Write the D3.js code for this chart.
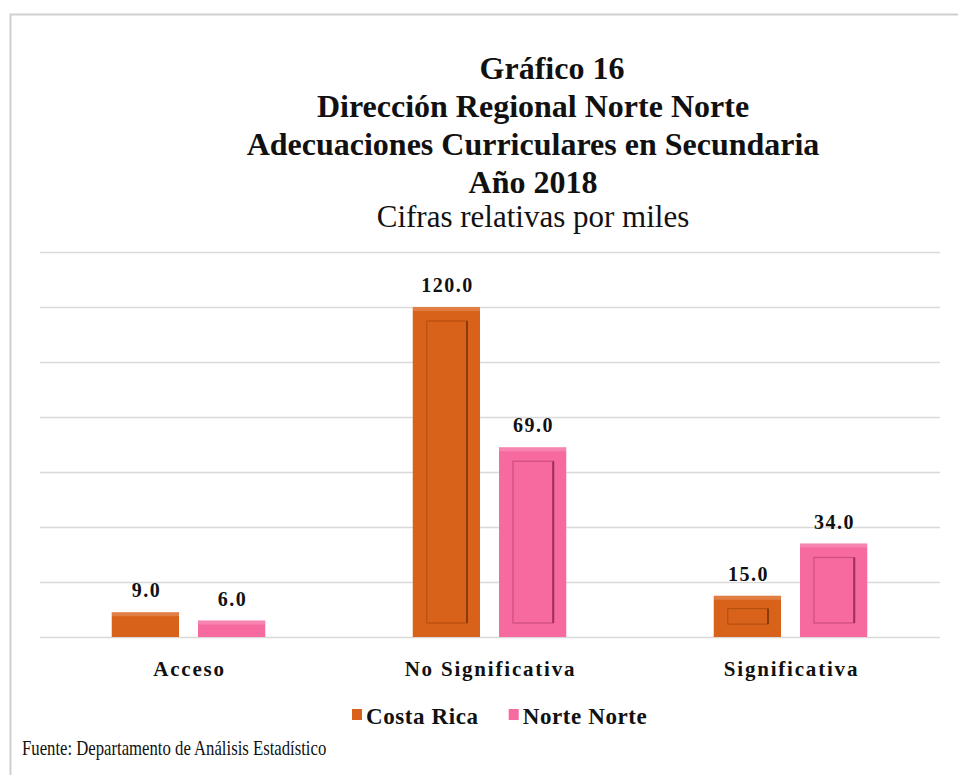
<!DOCTYPE html>
<html>
<head>
<meta charset="utf-8">
<script src="https://cdn.jsdelivr.net/npm/d3@7"></script>
<style>
  html, body { margin: 0; padding: 0; background: #fff; }
  svg { display: block; }
  text { font-family: "Liberation Serif", "Times New Roman", serif; }
</style>
</head>
<body>
<svg id="chart" width="958" height="775"></svg>
<script>
// data
var categories = ["Acceso", "No Significativa", "Significativa"];
var series = ["Costa Rica", "Norte Norte"];
var costaRica = [9.0, 120.0, 15.0];
var norteNorte = [6.0, 69.0, 34.0];
var titleLines = ["Gráfico 16", "Dirección Regional Norte Norte",
                  "Adecuaciones Curriculares en Secundaria", "Año 2018"];
var subtitle = "Cifras relativas por miles";
var source = "Fuente: Departamento de Análisis Estadístico";

var colors = {"Costa Rica": "#d9621a", "Norte Norte": "#f66a9f"};
var edges = {"Costa Rica": "#8a3a08", "Norte Norte": "#9c2d5c"};

function draw_chart()
{
    var svg = d3.select("svg#chart");

    // frame
    svg.append("path")
        .attr("d", "M10.5,775 L10.5,14.5 L958,14.5")
        .attr("fill", "none")
        .attr("stroke", "#cfcfcf")
        .attr("stroke-width", 2);

    // titles
    var tg = svg.append("g");
    tg.selectAll("text.title")
        .data(titleLines)
        .enter()
        .append("text")
        .attr("class", "title")
        .attr("x", function(d, i) { return i === 0 ? 552 : 533; })
        .attr("y", function(d, i) { return 79 + i * 38; })
        .attr("text-anchor", "middle")
        .attr("font-size", "32px")
        .attr("font-weight", "bold")
        .attr("fill", "#111")
        .text(function(d) { return d; });
    tg.append("text")
        .attr("x", 533)
        .attr("y", 227)
        .attr("text-anchor", "middle")
        .attr("font-size", "31px")
        .attr("fill", "#111")
        .text(subtitle);

    // scales
    var y = d3.scaleLinear().domain([0, 140]).range([637, 252]);
    var x0 = d3.scaleBand().domain(categories).range([38, 941])
        .paddingInner(0.49).paddingOuter(0.245);
    var x1 = d3.scaleBand().domain(series).range([0, x0.bandwidth()])
        .paddingInner(0.22);

    // gridlines
    svg.append("g")
        .selectAll("line")
        .data(y.ticks(7))
        .enter()
        .append("line")
        .attr("x1", 40)
        .attr("x2", 940)
        .attr("y1", function(d) { return Math.round(y(d)) + 0.5; })
        .attr("y2", function(d) { return Math.round(y(d)) + 0.5; })
        .attr("stroke", "#d9d9d9")
        .attr("stroke-width", 1.5);

    var rows = [];
    categories.forEach(function(c, i) {
        rows.push({cat: c, s: "Costa Rica", v: costaRica[i]});
        rows.push({cat: c, s: "Norte Norte", v: norteNorte[i]});
    });

    var bars = svg.append("g").selectAll("g.bar")
        .data(rows)
        .enter()
        .append("g")
        .attr("class", "bar")
        .attr("transform", function(d) {
            return "translate(" + (x0(d.cat) + x1(d.s)) + ",0)";
        });

    // outer body of bar
    bars.append("rect")
        .attr("x", 0)
        .attr("y", function(d) { return y(d.v); })
        .attr("width", x1.bandwidth())
        .attr("height", function(d) { return y(0) - y(d.v); })
        .attr("fill", function(d) { return colors[d.s]; });

    // bevel: lighter top strip
    bars.append("rect")
        .attr("x", 0)
        .attr("y", function(d) { return y(d.v); })
        .attr("width", x1.bandwidth())
        .attr("height", function(d) { return Math.min(4, (y(0) - y(d.v)) / 4); })
        .attr("fill", "#fff")
        .attr("opacity", 0.18);

    // bevel: inner panel
    var inner = bars.filter(function(d) { return y(0) - y(d.v) > 30; });
    inner.append("rect")
        .attr("x", 14)
        .attr("y", function(d) { return y(d.v) + Math.min(14, (y(0) - y(d.v)) / 3.2); })
        .attr("width", x1.bandwidth() - 27)
        .attr("height", function(d) {
            var h = y(0) - y(d.v), t = Math.min(14, h / 3.2);
            return h - 2 * t;
        })
        .attr("fill", function(d) { return colors[d.s]; })
        .attr("stroke", function(d) { return edges[d.s]; })
        .attr("stroke-opacity", 0.45)
        .attr("stroke-width", 1.2);
    inner.append("line")
        .attr("x1", x1.bandwidth() - 13)
        .attr("x2", x1.bandwidth() - 13)
        .attr("y1", function(d) { return y(d.v) + Math.min(14, (y(0) - y(d.v)) / 3.2); })
        .attr("y2", function(d) { return y(0) - Math.min(14, (y(0) - y(d.v)) / 3.2); })
        .attr("stroke", function(d) { return edges[d.s]; })
        .attr("stroke-width", 2);

    // value labels
    svg.append("g").selectAll("text")
        .data(rows)
        .enter()
        .append("text")
        .attr("x", function(d) { return x0(d.cat) + x1(d.s) + x1.bandwidth() / 2 + 1; })
        .attr("y", function(d) { return y(d.v) - 15; })
        .attr("text-anchor", "middle")
        .attr("font-size", "20px")
        .attr("font-weight", "bold")
        .attr("letter-spacing", "1.5px")
        .attr("fill", "#111")
        .text(function(d) { return d.v.toFixed(1); });

    // category labels
    svg.append("g").selectAll("text")
        .data(categories)
        .enter()
        .append("text")
        .attr("x", function(d) { return x0(d) + x0.bandwidth() / 2 + 1; })
        .attr("y", 676)
        .attr("text-anchor", "middle")
        .attr("font-size", "21px")
        .attr("font-weight", "bold")
        .attr("letter-spacing", "1.8px")
        .attr("fill", "#111")
        .text(function(d) { return d; });

    // legend
    var lg = svg.append("g").attr("transform", "translate(352,0)");
    var lx = 0;
    series.forEach(function(s) {
        var item = lg.append("g").attr("transform", "translate(" + lx + ",0)");
        item.append("rect")
            .attr("x", 0).attr("y", 709)
            .attr("width", 10).attr("height", 11)
            .attr("fill", colors[s]);
        var t = item.append("text")
            .attr("x", 14).attr("y", 724)
            .attr("font-size", "23px")
            .attr("font-weight", "bold")
            .attr("letter-spacing", "0.6px")
            .attr("fill", "#111")
            .text(s);
        lx += 14 + t.node().getComputedTextLength() + 30;
    });

    // source note, condensed like the original
    svg.append("text")
        .attr("transform", "translate(22,755) scale(0.76,1)")
        .attr("font-size", "22px")
        .attr("fill", "#111")
        .text(source);
}

draw_chart();
</script>
</body>
</html>
